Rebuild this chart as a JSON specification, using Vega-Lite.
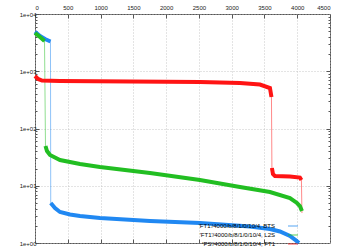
{
  "$schema": "https://vega.github.io/schema/vega-lite/v6.json",
  "width": 295,
  "height": 229,
  "autosize": "none",
  "padding": {"left": 35, "top": 14, "right": 17, "bottom": 5},
  "background": "white",
  "config": {
    "font": "Liberation Sans",
    "view": {"stroke": "#555", "strokeWidth": 1},
    "axis": {"domain": false, "labelFontSize": 6, "labelColor": "#222", "tickColor": "#555", "gridColor": "#bbb", "gridDash": [1, 2], "gridWidth": 0.8, "title": null}
  },
  "data": {"values": [
    {"series": "BTS", "part": 1, "rank": 0, "value": 4898},
    {"series": "BTS", "part": 1, "rank": 76, "value": 4130},
    {"series": "BTS", "part": 1, "rank": 153, "value": 3656},
    {"series": "BTS", "part": 1, "rank": 236, "value": 3311},
    {"series": "BTS", "part": 2, "rank": 240, "value": 5.0},
    {"series": "BTS", "part": 2, "rank": 305, "value": 4.09},
    {"series": "BTS", "part": 2, "rank": 381, "value": 3.48},
    {"series": "BTS", "part": 2, "rank": 534, "value": 3.15},
    {"series": "BTS", "part": 2, "rank": 686, "value": 2.96},
    {"series": "BTS", "part": 2, "rank": 991, "value": 2.73},
    {"series": "BTS", "part": 2, "rank": 1754, "value": 2.42},
    {"series": "BTS", "part": 2, "rank": 2516, "value": 2.23},
    {"series": "BTS", "part": 2, "rank": 3279, "value": 1.94},
    {"series": "BTS", "part": 2, "rank": 3584, "value": 1.76},
    {"series": "BTS", "part": 2, "rank": 3736, "value": 1.59},
    {"series": "BTS", "part": 2, "rank": 3889, "value": 1.33},
    {"series": "BTS", "part": 2, "rank": 3980, "value": 1.11},
    {"series": "BTS", "part": 2, "rank": 4026, "value": 1.0},
    {"series": "L2S", "part": 1, "rank": 0, "value": 4656},
    {"series": "L2S", "part": 1, "rank": 76, "value": 3965},
    {"series": "L2S", "part": 1, "rank": 145, "value": 3375},
    {"series": "L2S", "part": 2, "rank": 160, "value": 49.4},
    {"series": "L2S", "part": 2, "rank": 183, "value": 40.5},
    {"series": "L2S", "part": 2, "rank": 229, "value": 34.4},
    {"series": "L2S", "part": 2, "rank": 381, "value": 28.2},
    {"series": "L2S", "part": 2, "rank": 686, "value": 24.0},
    {"series": "L2S", "part": 2, "rank": 991, "value": 21.3},
    {"series": "L2S", "part": 2, "rank": 1754, "value": 16.7},
    {"series": "L2S", "part": 2, "rank": 2516, "value": 12.6},
    {"series": "L2S", "part": 2, "rank": 3126, "value": 9.5},
    {"series": "L2S", "part": 2, "rank": 3584, "value": 7.78},
    {"series": "L2S", "part": 2, "rank": 3889, "value": 6.11},
    {"series": "L2S", "part": 2, "rank": 3996, "value": 5.0},
    {"series": "L2S", "part": 2, "rank": 4041, "value": 4.43},
    {"series": "L2S", "part": 2, "rank": 4072, "value": 3.62},
    {"series": "FT1", "part": 1, "rank": 0, "value": 826},
    {"series": "FT1", "part": 1, "rank": 46, "value": 733},
    {"series": "FT1", "part": 1, "rank": 107, "value": 689},
    {"series": "FT1", "part": 1, "rank": 381, "value": 676},
    {"series": "FT1", "part": 1, "rank": 1449, "value": 662},
    {"series": "FT1", "part": 1, "rank": 2516, "value": 649},
    {"series": "FT1", "part": 1, "rank": 3126, "value": 623},
    {"series": "FT1", "part": 1, "rank": 3431, "value": 587},
    {"series": "FT1", "part": 1, "rank": 3584, "value": 510},
    {"series": "FT1", "part": 1, "rank": 3607, "value": 355},
    {"series": "FT1", "part": 2, "rank": 3614, "value": 20.4},
    {"series": "FT1", "part": 2, "rank": 3630, "value": 16.0},
    {"series": "FT1", "part": 2, "rank": 3660, "value": 14.8},
    {"series": "FT1", "part": 2, "rank": 3889, "value": 14.5},
    {"series": "FT1", "part": 2, "rank": 4041, "value": 13.9},
    {"series": "FT1", "part": 2, "rank": 4064, "value": 12.6},
    {"series": "FT1", "part": 3, "rank": 4072, "value": 3.34}
  ]},
  "resolve": {"axis": {"x": "independent", "y": "independent"}},
  "layer": [
    {
      "mark": {"type": "line", "strokeWidth": 1, "opacity": 0.5},
      "encoding": {
        "x": {"field": "rank", "type": "quantitative", "scale": {"domain": [0, 4500], "nice": false},
              "axis": {"orient": "top", "values": [0, 500, 1000, 1500, 2000, 2500, 3000, 3500, 4000, 4500], "grid": true, "tickSize": -4, "labelPadding": 8, "format": "d"}},
        "y": {"field": "value", "type": "quantitative", "scale": {"type": "log", "domain": [1, 10000], "nice": false},
              "axis": {"orient": "left", "values": [1, 10, 100, 1000, 10000], "grid": true, "tickSize": -4, "labelPadding": 3,
                       "labelExpr": "'1e+0' + round(log(datum.value)/LN10)"}},
        "color": {"field": "series", "type": "nominal",
                  "scale": {"domain": ["BTS", "L2S", "FT1"], "range": ["#2088f2", "#22be22", "#ff1414"]},
                  "legend": {"orient": "none", "legendX": 252, "legendY": 206, "title": null,
                             "symbolType": "stroke", "symbolSize": 100, "symbolStrokeWidth": 1.5,
                             "labelFontSize": 6, "labelAlign": "right", "labelOffset": -24, "rowPadding": -5,
                             "labelExpr": "datum.label == 'BTS' ? \"'FT1'/4000/b/8/1/0/10/4, BTS\" : datum.label == 'L2S' ? \"'FT1'/4000/b/8/1/0/10/4, L2S\" : \"'PS'/4000/b/8/1/0/10/4, FT1\""}}
      }
    },
    {
      "mark": {"type": "line", "strokeWidth": 4},
      "encoding": {
        "x": {"field": "rank", "type": "quantitative",
              "axis": {"orient": "bottom", "values": [500, 1000, 1500, 2000, 2500, 3000, 3500, 4000], "labels": false, "tickSize": -4, "grid": false}},
        "y": {"field": "value", "type": "quantitative",
              "axis": {"orient": "right", "values": [10, 100, 1000], "labels": false, "tickSize": -4, "grid": false}},
        "color": {"field": "series", "type": "nominal"},
        "detail": {"field": "part", "type": "nominal"}
      }
    },
    {
      "mark": {"type": "line", "opacity": 0},
      "encoding": {
        "x": {"field": "rank", "type": "quantitative", "axis": null},
        "y": {"field": "value", "type": "quantitative",
              "axis": {"orient": "left", "values": [2,3,4,5,6,7,8,9,20,30,40,50,60,70,80,90,200,300,400,500,600,700,800,900,2000,3000,4000,5000,6000,7000,8000,9000], "labels": false, "tickSize": -2, "grid": false}},
        "color": {"field": "series", "type": "nominal"}
      }
    },
    {
      "mark": {"type": "line", "opacity": 0},
      "encoding": {
        "x": {"field": "rank", "type": "quantitative", "axis": null},
        "y": {"field": "value", "type": "quantitative",
              "axis": {"orient": "right", "values": [2,3,4,5,6,7,8,9,20,30,40,50,60,70,80,90,200,300,400,500,600,700,800,900,2000,3000,4000,5000,6000,7000,8000,9000], "labels": false, "tickSize": -2, "grid": false}},
        "color": {"field": "series", "type": "nominal"}
      }
    }
  ]
}
